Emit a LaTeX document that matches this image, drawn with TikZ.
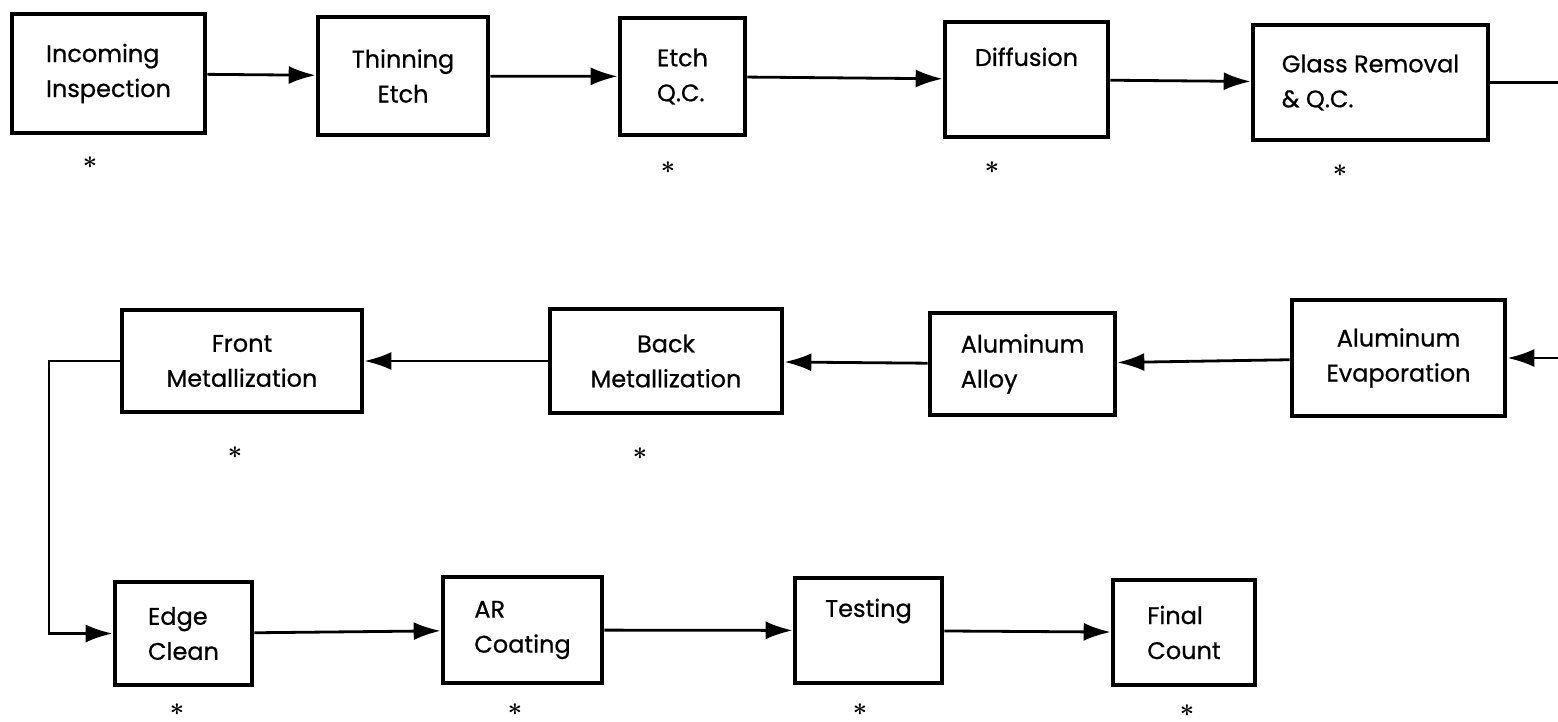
\documentclass[tikz,border=0pt]{standalone}
\usepackage{amsmath}
\usepackage{fontspec}
\setmainfont{Poppins}
\newfontfamily\boxfont{Poppins}[FakeBold=0.7]
\usetikzlibrary{arrows.meta,positioning}

\begin{document}
\begin{tikzpicture}[x=1pt,y=-1pt,>={Latex[length=27pt,width=18pt]}]
\tikzset{
  stepbox/.style={draw,line width=4.6pt,inner sep=0pt,align=left,
                  font=\boxfont\fontsize{24}{35}\selectfont},
  flow/.style={->,line width=2.8pt},
  qcstar/.style={anchor=base,inner sep=0pt,font=\fontsize{29}{29}\selectfont}
}
\useasboundingbox (0,0) rectangle (1558,722);
% first row
\node[stepbox,minimum width=193pt,minimum height=119pt] (insp) at (108.5,73.5) {Incoming\\Inspection};
\node[stepbox,align=center,minimum width=170pt,minimum height=118pt] (thin) at (403,76) {Thinning\\Etch};
\node[stepbox,minimum width=125pt,minimum height=117pt] (etchqc) at (682.5,76.5) {Etch\\Q.C.};
\node[stepbox,minimum width=163pt,minimum height=115pt] (diff) at (1026.5,79.5) {Diffusion\\\strut};
\node[stepbox,minimum width=235pt,minimum height=115pt] (glass) at (1370.5,82.5) {Glass Removal\\\& Q.C.};
% second row, right to left
\node[stepbox,align=center,minimum width=213pt,minimum height=116pt] (alevap) at (1398.5,358) {Aluminum\\Evaporation};
\node[stepbox,minimum width=185pt,minimum height=102pt] (alalloy) at (1022.5,364) {Aluminum\\Alloy};
\node[stepbox,align=center,minimum width=232pt,minimum height=104pt] (backmet) at (666,361) {Back\\Metallization};
\node[stepbox,align=center,minimum width=240pt,minimum height=102pt] (frontmet) at (242,361) {Front\\Metallization};
% third row
\node[stepbox,minimum width=137pt,minimum height=103pt] (edge) at (183.5,633.5) {Edge\\Clean};
\node[stepbox,minimum width=159pt,minimum height=106pt] (arcoat) at (522.5,630) {AR\\Coating};
\node[stepbox,align=center,minimum width=147pt,minimum height=105pt] (testing) at (868.5,630.5) {Testing\\\strut};
\node[stepbox,minimum width=142pt,minimum height=105pt] (final) at (1184,632.5) {Final\\Count};
% quality checks
\node[qcstar] (s1) at (90,168.5) {$\boldsymbol{\ast}$};
\node[qcstar] (s2) at (668,173.5) {$\boldsymbol{\ast}$};
\node[qcstar] (s3) at (992,173.5) {$\boldsymbol{\ast}$};
\node[qcstar] (s4) at (1340,176.5) {$\boldsymbol{\ast}$};
\node[qcstar] (s5) at (235,458.5) {$\boldsymbol{\ast}$};
\node[qcstar] (s6) at (640,459.5) {$\boldsymbol{\ast}$};
\node[qcstar] (s7) at (177,715) {$\boldsymbol{\ast}$};
\node[qcstar] (s8) at (515,715) {$\boldsymbol{\ast}$};
\node[qcstar] (s9) at (860,715) {$\boldsymbol{\ast}$};
\node[qcstar] (s10) at (1187,716) {$\boldsymbol{\ast}$};
% page edge and bend
\coordinate (rim) at (1558,0);
\coordinate (bend) at (49,500);
\draw[flow] (insp)--(thin);
\draw[flow] (thin)--(etchqc);
\draw[flow] (etchqc)--(diff);
\draw[flow] (diff)--(glass);
\draw[line width=2.8pt] (glass.east)--(glass.east -| rim);
\draw[flow] (alevap.east -| rim)--(alevap.east);
\draw[flow] (alevap)--(alalloy);
\draw[flow] (alalloy)--(backmet);
\draw[flow] (backmet)--(frontmet);
\draw[flow] (frontmet.west) -| (bend) |- (edge.west);
\draw[flow] (edge)--(arcoat);
\draw[flow] (arcoat)--(testing);
\draw[flow] (testing)--(final);
\end{tikzpicture}
\end{document}
